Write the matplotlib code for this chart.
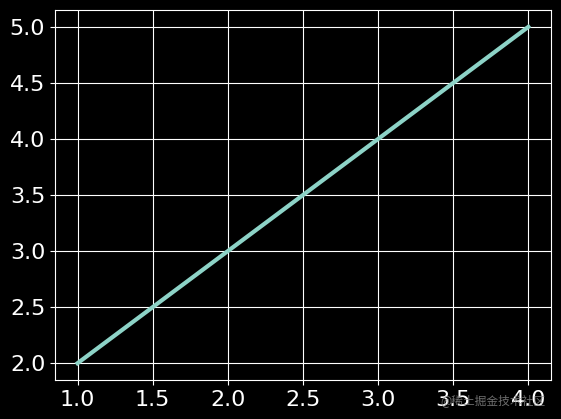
import matplotlib.pyplot as plt

x_values = [1, 2, 3, 4]
y_values = [2, 3, 4, 5]

plt.style.use("dark_background")
plt.rcParams["font.family"] = ["DejaVu Sans", "Noto Sans CJK SC"]

fig, ax = plt.subplots(figsize=(5.61, 4.19), dpi=100)
fig.subplots_adjust(left=0.098, right=0.982, top=0.976, bottom=0.093)

ax.plot(x_values, y_values, linewidth=3)
ax.grid(True)
ax.tick_params(labelsize=16)

# watermark sits over the last x tick labels, as in the source image
fig.text(0.972, 0.045, "@稀土掘金技术社区", color="#888888", fontsize=8.5,
         ha="right", va="center", alpha=0.8,
         family=["Noto Sans CJK SC", "DejaVu Sans"])

plt.savefig("out.png", dpi=100)
